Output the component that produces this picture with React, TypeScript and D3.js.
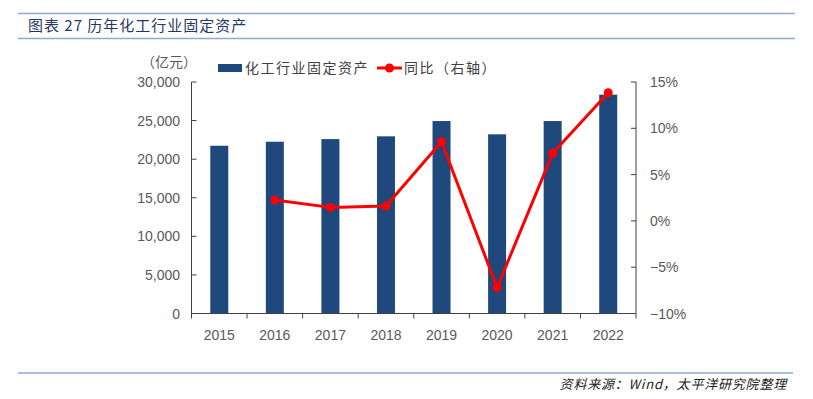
import React, { useEffect, useRef } from 'react';
import * as d3 from 'd3';

const years = ['2015', '2016', '2017', '2018', '2019', '2020', '2021', '2022'];
const assets = [21740, 22260, 22600, 22960, 24940, 23220, 24940, 28360];
const yoy = [null, 2.25, 1.46, 1.6, 8.55, -7.2, 7.3, 13.85];
const leftTicks = [0, 5000, 10000, 15000, 20000, 25000, 30000];
const rightTicks = [-10, -5, 0, 5, 10, 15];

const W = 813, H = 399;
const NUM_FONT = '"Liberation Sans", Arial, sans-serif';
const CJK_FONT = '"Noto Sans CJK SC", sans-serif';

const App = () => {
  const svgRef = useRef<SVGSVGElement>(null);

  useEffect(() => {
    document.body.style.margin = '0';
    const svg = d3.select(svgRef.current);
    svg.selectAll('*').remove();

    const left = 191.5, right = 636, top = 82, bottom = 313.5;

    const x = d3.scaleBand().domain(years).range([left, right]);
    const y = d3.scaleLinear().domain([0, 30000]).range([bottom, top]);
    const y2 = d3.scaleLinear().domain([-10, 15]).range([bottom, top]);

    // header / footer rules
    svg.append('line').attr('x1', 18).attr('x2', 795).attr('y1', 13.5).attr('y2', 13.5)
      .attr('stroke', '#8eaad0').attr('stroke-width', 1.5);
    svg.append('line').attr('x1', 18).attr('x2', 795).attr('y1', 38.5).attr('y2', 38.5)
      .attr('stroke', '#8eaad0').attr('stroke-width', 1.5);
    svg.append('line').attr('x1', 18).attr('x2', 793).attr('y1', 373).attr('y2', 373)
      .attr('stroke', '#8eaad0').attr('stroke-width', 1.5);

    svg.append('text').attr('x', 28).attr('y', 31)
      .attr('font-family', CJK_FONT).attr('font-size', 15).attr('fill', '#1f3864')
      .attr('letter-spacing', 1)
      .text('图表 27 历年化工行业固定资产');

    svg.append('text').attr('x', 787).attr('y', 389).attr('text-anchor', 'end')
      .attr('font-family', CJK_FONT).attr('font-size', 13).attr('font-style', 'italic')
      .attr('letter-spacing', 0.8)
      .attr('fill', '#222').text('资料来源：Wind，太平洋研究院整理');

    // bars
    const bw = 18;
    svg.selectAll('rect.bar').data(assets).enter().append('rect')
      .attr('class', 'bar')
      .attr('x', (d, i) => x(years[i])! + x.bandwidth() / 2 - bw / 2)
      .attr('y', d => y(d))
      .attr('width', bw)
      .attr('height', d => bottom - y(d))
      .attr('fill', '#1f497d');

    // axes
    const axisColor = '#404040';
    svg.append('line').attr('x1', left).attr('x2', left).attr('y1', top).attr('y2', bottom)
      .attr('stroke', axisColor);
    svg.append('line').attr('x1', right).attr('x2', right).attr('y1', top).attr('y2', bottom)
      .attr('stroke', axisColor);
    svg.append('line').attr('x1', left).attr('x2', right).attr('y1', bottom).attr('y2', bottom)
      .attr('stroke', axisColor);

    leftTicks.forEach(t => {
      svg.append('line').attr('x1', left).attr('x2', left + 5).attr('y1', y(t)).attr('y2', y(t))
        .attr('stroke', axisColor);
      svg.append('text').attr('x', 180).attr('y', y(t) + 5).attr('text-anchor', 'end')
        .attr('font-family', NUM_FONT).attr('font-size', 14).attr('fill', '#595959')
        .text(d3.format(',')(t));
    });
    rightTicks.forEach(t => {
      svg.append('line').attr('x1', right - 5).attr('x2', right).attr('y1', y2(t)).attr('y2', y2(t))
        .attr('stroke', axisColor);
      svg.append('text').attr('x', 650).attr('y', y2(t) + 5)
        .attr('font-family', NUM_FONT).attr('font-size', 14).attr('fill', '#595959')
        .text((t < 0 ? '\u2212' + Math.abs(t) : t) + '%');
    });
    years.forEach((yr, i) => {
      const bx = x(yr)!;
      svg.append('line').attr('x1', bx).attr('x2', bx).attr('y1', bottom).attr('y2', bottom + 5)
        .attr('stroke', axisColor);
      if (i === years.length - 1) {
        svg.append('line').attr('x1', bx + x.bandwidth()).attr('x2', bx + x.bandwidth())
          .attr('y1', bottom).attr('y2', bottom + 5).attr('stroke', axisColor);
      }
      svg.append('text').attr('x', bx + x.bandwidth() / 2).attr('y', 340).attr('text-anchor', 'middle')
        .attr('font-family', NUM_FONT).attr('font-size', 14).attr('fill', '#595959').text(yr);
    });

    // line
    const pts = yoy.map((v, i) => ({ v, yr: years[i] })).filter(d => d.v !== null) as { v: number, yr: string }[];
    const line = d3.line<{ v: number, yr: string }>()
      .x(d => x(d.yr)! + x.bandwidth() / 2)
      .y(d => y2(d.v));
    svg.append('path').datum(pts).attr('d', line).attr('fill', 'none')
      .attr('stroke', '#ff0000').attr('stroke-width', 3).attr('stroke-linejoin', 'round');
    svg.selectAll('circle.pt').data(pts).enter().append('circle')
      .attr('class', 'pt')
      .attr('cx', d => x(d.yr)! + x.bandwidth() / 2)
      .attr('cy', d => y2(d.v))
      .attr('r', 4.5).attr('fill', '#ff0000');

    // unit label
    svg.append('text').attr('x', 141).attr('y', 67)
      .attr('font-family', CJK_FONT).attr('font-size', 14).attr('fill', '#595959').text('（亿元）');

    // legend
    svg.append('rect').attr('x', 218).attr('y', 64).attr('width', 24).attr('height', 8).attr('fill', '#1f497d');
    svg.append('text').attr('x', 245).attr('y', 73)
      .attr('font-family', CJK_FONT).attr('font-size', 14).attr('fill', '#404040')
      .attr('letter-spacing', 1.5).text('化工行业固定资产');
    svg.append('line').attr('x1', 377).attr('x2', 402).attr('y1', 68).attr('y2', 68)
      .attr('stroke', '#ff0000').attr('stroke-width', 3);
    svg.append('circle').attr('cx', 389.5).attr('cy', 68).attr('r', 4.5).attr('fill', '#ff0000');
    svg.append('text').attr('x', 404).attr('y', 73)
      .attr('font-family', CJK_FONT).attr('font-size', 14).attr('fill', '#404040')
      .attr('letter-spacing', 1.5).text('同比（右轴）');
  }, []);

  return <svg ref={svgRef} width={W} height={H} style={{ display: 'block', background: '#fff' }} />;
};

export default App;
